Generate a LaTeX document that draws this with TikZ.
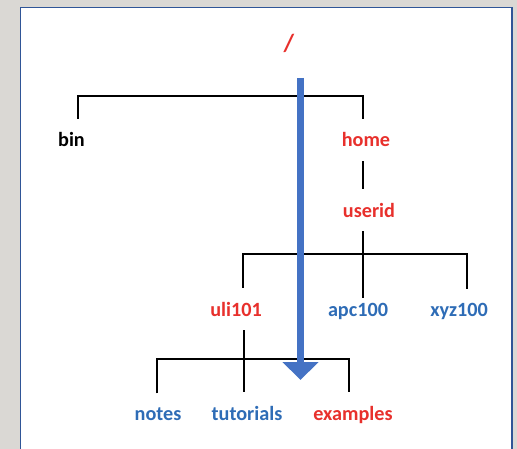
\documentclass[tikz,border=0pt]{standalone}
\usepackage{fontspec}
\setmainfont{Carlito}
\usepackage{tikz}
\usepackage{xcolor}
\usetikzlibrary{arrows.meta}

\definecolor{rojo}{RGB}{232,48,44}
\definecolor{azul}{RGB}{46,108,182}
\definecolor{flecha}{RGB}{68,114,196}
\definecolor{fondo}{RGB}{218,216,212}
\definecolor{marco}{RGB}{47,85,151}

\tikzset{
  dir/.style={font=\fontsize{11.5}{13}\selectfont\bfseries, inner sep=0pt, outer ysep=7.9pt, anchor=base},
  rama/.style={line width=1.1pt, black},
}

\begin{document}
\begin{tikzpicture}[x=0.02cm,y=-0.02cm]
\useasboundingbox (0,0) rectangle (517,449);
% Fondo y marco
\fill[fondo] (0,0) rectangle (517,449);
\begin{scope}
\clip (0,0) rectangle (517,449);
\filldraw[fill=white, draw=marco, line width=0.8pt] (20.5,7.5) rectangle (512,470);
\end{scope}

% Directorios
\node[dir, rojo, font=\fontsize{14}{16}\selectfont\bfseries] (root) at (289,52) {/};
\node[dir] (bin) at (71.5,147) {bin};
\node[dir, rojo] (home) at (366,147) {home};
\node[dir, rojo] (userid) at (369,217) {userid};
\node[dir, rojo] (uli) at (236,316) {uli101};
\node[dir, azul] (apc) at (358,316) {apc100};
\node[dir, azul] (xyz) at (459,316) {xyz100};
\node[dir, azul] (notes) at (158,420) {notes};
\node[dir, azul] (tutorials) at (247,420) {tutorials};
\node[dir, rojo] (examples) at (353,420) {examples};

% Barras y columnas
\coordinate (barA1) at (78,96);
\coordinate (barA2) at (363,96);
\coordinate (barB1) at (243,254);
\coordinate (barB2) at (467,254);
\coordinate (barC1) at (157,359);
\coordinate (barC2) at (349,359);
\coordinate (colU) at (244,0);

% Ramas
\draw[rama] (bin.north -| barA1) -- (barA1) -- (barA2) -- (home.north -| barA2);
\draw[rama] (home.south -| barA2) -- (userid.north -| barA2);
\draw[rama] (uli.north -| barB1) -- (barB1) -- (barB2) -- (xyz.north -| barB2);
\draw[rama, shorten >=-5pt] (userid.south -| barA2) -- (apc.north -| barA2);
\draw[rama] (notes.north -| barC1) -- (barC1) -- (barC2) -- (examples.north -| barC2);
\draw[rama] (uli.south -| colU) -- (tutorials.north -| colU);

% Flecha
\coordinate (ftop) at (300.5,78);
\coordinate (fbot) at (300.5,380);
\draw[flecha, line width=0.15cm, -{Triangle[width=0.7cm,length=0.36cm]}] (ftop) -- (fbot);
\end{tikzpicture}
\end{document}
